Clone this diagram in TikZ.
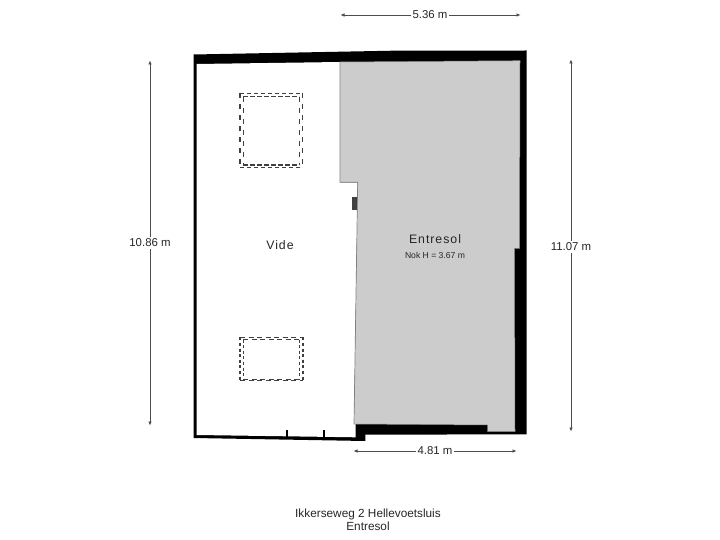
\documentclass[tikz,border=0pt]{standalone}
\usepackage{fontspec}
\setmainfont{Liberation Sans}
\newfontfamily\spaced[LetterSpace=8]{Liberation Sans}
\usetikzlibrary{arrows.meta}
\definecolor{fl}{gray}{0.8}
\definecolor{edge}{gray}{0.5}
\tikzset{
  x=1pt,y=-1pt,
  wall/.style={fill=black,draw=none},
  dim/.style={draw=black!70,line width=0.7pt,{Latex[length=4pt,width=3.6pt]}-{Latex[length=4pt,width=3.6pt]}},
  dimtext/.style={fill=white,inner sep=1.5pt,text=black!85,font=\fontsize{11.4}{13}\selectfont},
  skyh/.style={draw=black!75,line width=1.3pt,dash pattern=on 4.2pt off 2.8pt},
  skyv/.style={draw=black!75,line width=1.3pt,dash pattern=on 5pt off 6pt},
  skyhb/.style={draw=black!75,line width=1.3pt,dash pattern=on 5pt off 3.5pt},
  skyvb/.style={draw=black!75,line width=1.3pt,dash pattern=on 3pt off 2.6pt},
  room/.style={text=black!85,font=\spaced\fontsize{12.3}{14}\selectfont},
  small/.style={text=black!85,font=\fontsize{8.6}{10}\selectfont},
  caption/.style={text=black!85,align=center,font=\fontsize{11.8}{13}\selectfont}
}
\begin{document}
\begin{tikzpicture}
\useasboundingbox (0,0) rectangle (720,540);
% walls
\fill[wall] (193.5,54.5) -- (393,50.7) -- (526.5,50.5) -- (526.5,434.3) -- (365.3,434.7) -- (365.3,441) -- (193.5,438) -- cycle;
% floor
\fill[fl] (340,62) -- (520,60.7) -- (519.5,248.3) -- (514.5,248.3) -- (515,431.7) -- (487.7,431.5) -- (487.7,425) -- (354,424) -- (357.7,182.3) -- (340,182.3) -- cycle;
\fill[white] (196.7,64) -- (340,62) -- (340,182.3) -- (357.7,182.3) -- (354,424) -- (355.7,424) -- (355.7,437.3) -- (196.7,435) -- cycle;
\draw[edge,line width=0.7pt] (340,62) -- (340,182.3) -- (357.7,182.3) -- (354,424);
\draw[edge,line width=0.5pt] (354,424) -- (487.7,425) -- (487.7,431.5) -- (515,431.7) -- (514.5,248.3) -- (519.5,248.3) -- (520,60.7) -- (340,62);
% door stubs
\draw[black,line width=2.2pt] (286.7,430) -- (286.7,437);
\draw[black,line width=2.2pt] (324.3,430) -- (324.3,438);
% recess
\fill[black!75] (352.3,196.7) rectangle (356.8,210);
% skylights
\foreach \xa/\xb/\ya/\yb in {240/302.3/93.3/167.3, 243.3/299.3/96.7/165}{
  \draw[skyh] (\xa,\ya) -- (\xb,\ya);
  \draw[skyh] (\xa,\yb) -- (\xb,\yb);
  \draw[skyv] (\xa,\ya) -- (\xa,\yb);
  \draw[skyv] (\xb,\ya) -- (\xb,\yb);
}
\foreach \xa/\xb/\ya/\yb in {240/303/337.3/380.3, 243.3/299.5/339.5/379.3}{
  \draw[skyhb] (\xa,\ya) -- (\xb,\ya);
  \draw[skyhb] (\xa,\yb) -- (\xb,\yb);
  \draw[skyvb] (\xa,\ya) -- (\xa,\yb);
  \draw[skyvb] (\xb,\ya) -- (\xb,\yb);
}
% dimensions
\coordinate (ta) at (340.5,15); \coordinate (tb) at (520.5,15);
\coordinate (la) at (150,60.5); \coordinate (lb) at (150,425.5);
\coordinate (ra) at (571,59.5); \coordinate (rb) at (571,431.5);
\coordinate (ba) at (353.5,451); \coordinate (bb) at (516.5,451);
\draw[dim] (ta) -- (tb);
\draw[dim] (la) -- (lb);
\draw[dim] (ra) -- (rb);
\draw[dim] (ba) -- (bb);
\node[dimtext] (tt) at (430,15) {5.36 m};
\node[dimtext] (lt) at (150,243) {10.86 m};
\node[dimtext] (rt) at (571,247) {11.07 m};
\node[dimtext] (bt) at (435,451) {4.81 m};
% labels
\node[room] (vide) at (280,245) {Vide};
\node[room] (ent) at (435,239) {Entresol};
\node[small] (nok) at (435,255) {Nok H = 3.67 m};
\node[caption] (cap) at (368,519.5) {Ikkerseweg 2 Hellevoetsluis\\Entresol};
\end{tikzpicture}
\end{document}
